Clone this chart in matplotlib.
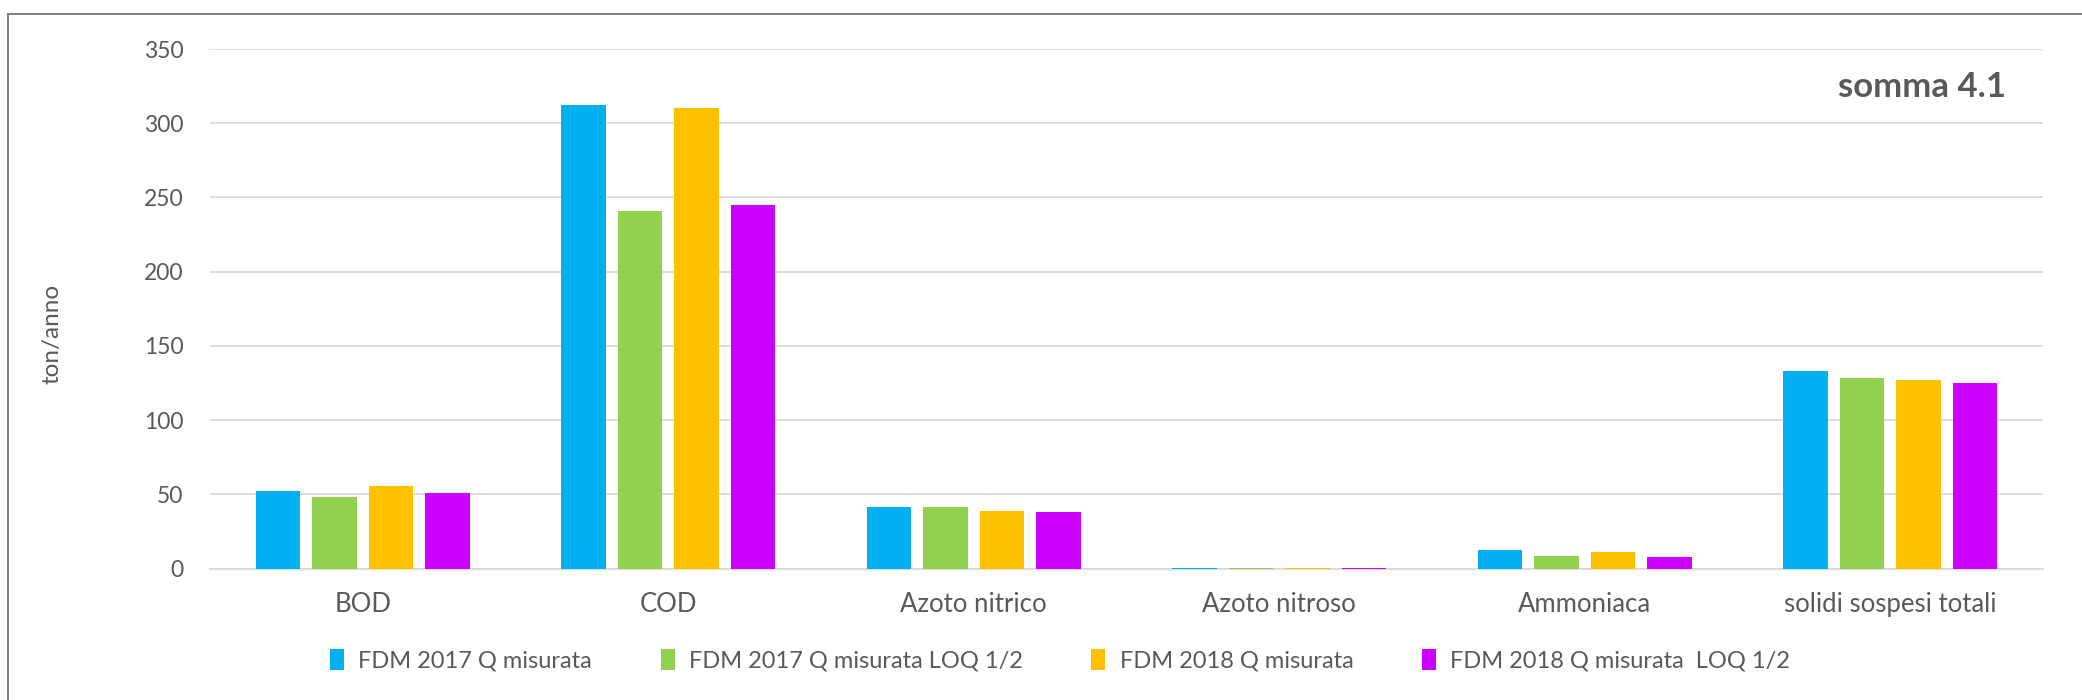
import matplotlib.pyplot as plt
from matplotlib.patches import Patch
from matplotlib.lines import Line2D
import numpy as np

plt.rcParams['font.family'] = ['Lato', 'DejaVu Sans']

categories = ['BOD', 'COD', 'Azoto nitrico', 'Azoto nitroso', 'Ammoniaca',
              'solidi sospesi totali']
series_names = ['FDM 2017 Q misurata', 'FDM 2017 Q misurata LOQ 1/2',
                'FDM 2018 Q misurata', 'FDM 2018 Q misurata  LOQ 1/2']
fdm2017 = [52.4, 312.0, 41.1, 0.5, 12.5, 133.0]
fdm2017_loq = [48.1, 241.1, 41.1, 0.4, 8.4, 128.1]
fdm2018 = [55.3, 310.1, 38.5, 0.5, 11.3, 126.7]
fdm2018_loq = [50.7, 245.0, 38.2, 0.4, 7.7, 124.8]
colors = ['#00B0F0', '#92D050', '#FFC000', '#CC00FF']
yticks = [0, 50, 100, 150, 200, 250, 300, 350]

text_color = '#595959'
grid_color = '#D9D9D9'


def main():
    fig = plt.figure(figsize=(20.82, 7), dpi=100)
    ax = fig.add_axes([210 / 2082, 1 - 568.5 / 700,
                       (2043 - 210) / 2082, (568.5 - 49) / 700])

    x = np.arange(len(categories))
    width = 0.147
    step = 0.185
    all_series = [fdm2017, fdm2017_loq, fdm2018, fdm2018_loq]
    for i, (vals, col) in enumerate(zip(all_series, colors)):
        ax.bar(x + (i - 1.5) * step, vals, width, color=col, zorder=3)

    ax.set_xlim(-0.5, len(categories) - 0.5)
    ax.set_ylim(0, 350)
    ax.set_yticks(yticks)
    ax.set_xticks(x)
    ax.set_xticklabels(categories)
    ax.yaxis.grid(True, color=grid_color, linewidth=1.3, zorder=0)
    for side in ['top', 'right', 'left']:
        ax.spines[side].set_visible(False)
    ax.spines['bottom'].set_color(grid_color)
    ax.spines['bottom'].set_linewidth(1.3)
    ax.tick_params(axis='both', length=0, labelcolor=text_color)
    ax.tick_params(axis='x', pad=17, labelsize=18.5)
    ax.tick_params(axis='y', pad=19, labelsize=16.5)

    fig.text(52 / 2082, 1 - 334 / 700, 'ton/anno', rotation=90, ha='center',
             va='center', fontsize=17.5, color=text_color)
    fig.text(2006 / 2082, 1 - 87 / 700, 'somma 4.1', ha='right', va='center',
             fontsize=25, fontweight='bold', color=text_color)

    handles = [Patch(facecolor=c, edgecolor='none') for c in colors]
    fig.legend(handles, series_names, loc='center', ncol=4,
               bbox_to_anchor=(1060 / 2082, 1 - 660 / 700), frameon=False,
               fontsize=17, labelcolor=text_color, handlelength=0.6,
               handleheight=1.0, handletextpad=0.6, columnspacing=2.9)

    # chart area border (left and top edges visible)
    fig.add_artist(Line2D([8 / 2082, 8 / 2082], [0, 1 - 14 / 700],
                          transform=fig.transFigure, color='#7F7F7F', linewidth=1.4))
    fig.add_artist(Line2D([8 / 2082, 1], [1 - 14 / 700, 1 - 14 / 700],
                          transform=fig.transFigure, color='#7F7F7F', linewidth=1.4))

    fig.savefig('out.png', dpi=100)
    plt.close(fig)


if __name__ == "__main__":
    main()
